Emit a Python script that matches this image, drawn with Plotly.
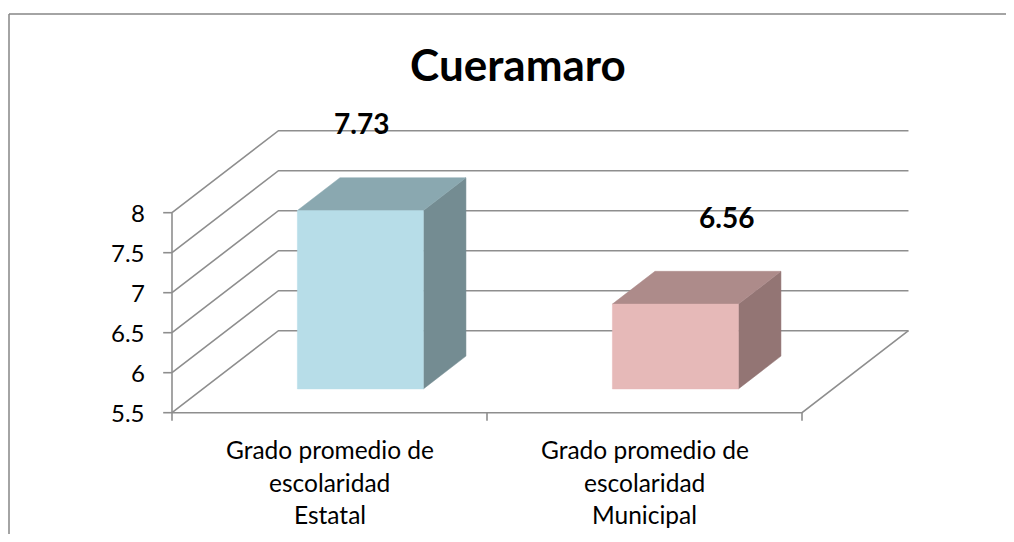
import plotly.graph_objects as go

# ---- data ----
title_text = "Cueramaro"
categories = [["Grado promedio de", "escolaridad", "Estatal"],
              ["Grado promedio de", "escolaridad", "Municipal"]]
values = [7.73, 6.56]
value_labels = ["7.73", "6.56"]
y_ticks = [5.5, 6, 6.5, 7, 7.5, 8]
y_tick_labels = ["5.5", "6", "6.5", "7", "7.5", "8"]

# ---- styles / geometry (projection of the 3-D box) ----
# The page adds an 8px body margin, so the figure is drawn a little smaller.
W, H = 998, 526
ORIGIN_X, ORIGIN_Y = 164.0, 404.7   # pixel position of (category 0, value 5.5)
PX_PER_CAT, PX_PER_VAL = 315.0, 80.0
Y_MIN, Y_MAX = 5.5, 8.0
DX, DY = 0.338, 1.025           # depth offset (category units, value units)
BAR_W = 0.4
D0, D1 = 0.29, 0.69             # bar depth span (fraction of full depth)
LABEL_NUDGE = [(0.10, 1.39), (0.26, 1.39)]
FRONT = ["#B7DDE8", "#E6B9B8"]
TOP = ["#8AA8B0", "#AD8B8A"]
SIDE = ["#748C92", "#937574"]
GRID = "#8E8E8E"
FONT = "Lato"

fig = go.Figure()


def P(x, v, d):
    return x + d * DX, v + d * DY


def line(xs, ys, color=GRID, width=1.6):
    fig.add_trace(go.Scatter(x=xs, y=ys, mode="lines", line=dict(color=color, width=width),
                             hoverinfo="skip", showlegend=False))


def poly(pts, color):
    xs = [p[0] for p in pts] + [pts[0][0]]
    ys = [p[1] for p in pts] + [pts[0][1]]
    fig.add_trace(go.Scatter(x=xs, y=ys, mode="lines", fill="toself", fillcolor=color,
                             line=dict(color=color, width=0.5), hoverinfo="skip",
                             showlegend=False))


n = len(values)
# walls: side-wall diagonals and back-wall gridlines
for v in y_ticks:
    bx, by = P(0, v, 1)
    line([0, bx, n + DX], [v, by, by])
# floor right edge and front x axis
ex, ey = P(n, Y_MIN, 1)
line([0, n, ex], [Y_MIN, Y_MIN, ey])
# front value axis
line([0, 0], [Y_MIN, Y_MAX])
for v in y_ticks:
    line([-0.028, 0], [v, v])
# category ticks
for i in range(n + 1):
    line([i, i], [Y_MIN, Y_MIN - 0.1])

# bars
for i, val in enumerate(values):
    c = i + 0.5
    x0, x1 = c - BAR_W / 2, c + BAR_W / 2
    f = [P(x0, Y_MIN, D0), P(x1, Y_MIN, D0), P(x1, val, D0), P(x0, val, D0)]
    t = [P(x0, val, D0), P(x1, val, D0), P(x1, val, D1), P(x0, val, D1)]
    s = [P(x1, Y_MIN, D0), P(x1, Y_MIN, D1), P(x1, val, D1), P(x1, val, D0)]
    poly(s, SIDE[i])
    poly(t, TOP[i])
    poly(f, FRONT[i])

annotations = []
# value labels
for i, (val, lab) in enumerate(zip(values, value_labels)):
    annotations.append(dict(x=i + 0.5 + LABEL_NUDGE[i][0], y=val + LABEL_NUDGE[i][1],
                            xref="x", yref="y", text="<b>%s</b>" % lab, showarrow=False,
                            font=dict(family=FONT, size=28, color="black"),
                            xanchor="center", yanchor="middle"))
# y tick labels
for v, lab in zip(y_ticks, y_tick_labels):
    annotations.append(dict(x=-0.08, y=v, xref="x", yref="y", text=lab, showarrow=False,
                            font=dict(family=FONT, size=24, color="black"),
                            xanchor="right", yanchor="middle"))
# category labels
for i, lines in enumerate(categories):
    for k, txt in enumerate(lines):
        annotations.append(dict(x=i + 0.5, y=Y_MIN - 0.466 - k * 0.405, xref="x", yref="y",
                                text=txt, showarrow=False,
                                font=dict(family=FONT, size=24.5, color="black"),
                                xanchor="center", yanchor="middle"))

# chart border (top and left edges)
top_y = 1 - 6 / H
shapes = [
    dict(type="line", xref="paper", yref="paper", x0=1 / W, x1=1, y0=top_y, y1=top_y,
         line=dict(color="#868686", width=1.5)),
    dict(type="line", xref="paper", yref="paper", x0=1 / W, x1=1 / W, y0=0, y1=top_y,
         line=dict(color="#868686", width=1.5)),
]

fig.update_layout(
    width=W, height=H,
    margin=dict(l=0, r=0, t=0, b=0),
    paper_bgcolor="white", plot_bgcolor="white",
    title=dict(text="<b>%s</b>" % title_text, x=510 / W, xanchor="center",
               y=1 - 58 / H, yanchor="middle",
               font=dict(family=FONT, size=44, color="black")),
    xaxis=dict(range=[-ORIGIN_X / PX_PER_CAT, (W - ORIGIN_X) / PX_PER_CAT],
               visible=False, fixedrange=True),
    yaxis=dict(range=[Y_MIN - (H - ORIGIN_Y) / PX_PER_VAL, Y_MIN + ORIGIN_Y / PX_PER_VAL],
               visible=False, fixedrange=True),
    annotations=annotations,
    shapes=shapes,
    showlegend=False,
)

fig.write_html("out.html")
